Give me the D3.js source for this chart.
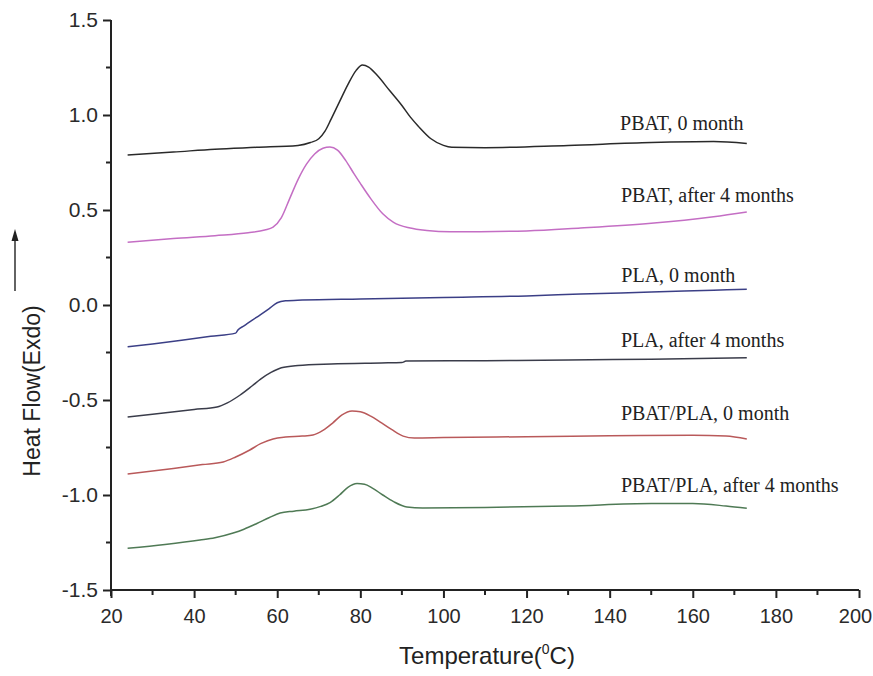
<!DOCTYPE html>
<html>
<head>
<meta charset="utf-8">
<script src="https://cdn.jsdelivr.net/npm/d3@7"></script>
<style>
  html, body { margin: 0; padding: 0; background: #fff; }
  svg { display: block; }
</style>
</head>
<body>
<svg id="chart" width="873" height="676"></svg>
<script>
// ---- data ----
const xTicks = [20, 40, 60, 80, 100, 120, 140, 160, 180, 200];
const yTicks = [-1.5, -1.0, -0.5, 0.0, 0.5, 1.0, 1.5];
const yTickLabels = ["-1.5", "-1.0", "-0.5", "0.0", "0.5", "1.0", "1.5"];

const seriesNames = ["PBAT, 0 month", "PBAT, after 4 months", "PLA, 0 month",
  "PLA, after 4 months", "PBAT/PLA, 0 month", "PBAT/PLA, after 4 months"];

const pbat0 = [[24,.79],[35,.805],[45,.82],[55,.83],[65,.84],[68,.855],[70,.875],[71.5,.915],[73,.98],[75,1.07],[77,1.16],[79,1.235],[80.5,1.263],[82,1.252],[84,1.21],[87,1.13],[90,1.05],[92,.99],[94,.94],[97,.875],[100,.84],[102,.83],[110,.828],[130,.84],[150,.855],[165,.86],[173,.85]];
const pbat4 = [[24,.33],[35,.35],[45,.365],[53,.38],[57,.395],[59,.41],[61,.46],[63,.56],[65,.66],[67,.74],[69,.795],[71,.825],[72.7,.832],[74.5,.815],[76.5,.76],[78.5,.69],[80,.64],[82.5,.56],[85.4,.48],[88,.435],[92,.405],[96,.392],[101.6,.385],[120,.39],[133,.405],[150,.43],[165,.465],[173,.49]];
const pla0 = [[24,-.22],[30,-.205],[37,-.185],[44,-.165],[50,-.148],[50.6,-.13],[52,-.11],[55,-.065],[58,-.02],[60,.012],[62,.022],[66,.026],[80,.032],[100,.04],[120,.048],[133,.058],[150,.068],[165,.078],[173,.083]];
const pla4 = [[24,-.59],[30,-.575],[40,-.55],[45.5,-.537],[48,-.515],[51,-.475],[54,-.425],[56,-.39],[58.5,-.355],[61,-.33],[65,-.318],[73,-.31],[85,-.305],[90,-.303],[91,-.295],[110,-.293],[130,-.29],[150,-.285],[173,-.278]];
const blend0 = [[24,-.89],[35,-.86],[42,-.84],[47,-.826],[50,-.8],[53.4,-.763],[56,-.73],[59,-.705],[62,-.695],[66,-.69],[68.6,-.684],[71,-.66],[73.4,-.62],[75.5,-.58],[78,-.558],[80,-.562],[82.5,-.585],[84.7,-.615],[87.5,-.655],[90.3,-.69],[93,-.7],[100,-.698],[120,-.693],[140,-.688],[160,-.685],[168,-.69],[173,-.705]];
const blend4 = [[24,-1.28],[33,-1.26],[41.4,-1.237],[45,-1.225],[49.4,-1.2],[52,-1.18],[55.1,-1.15],[58,-1.12],[60.7,-1.095],[64,-1.085],[67.9,-1.075],[70.5,-1.06],[72.7,-1.04],[75,-1.0],[77,-.96],[79.2,-.94],[81,-.943],[83,-.965],[85.4,-1.0],[88,-1.035],[91.2,-1.063],[95,-1.068],[110,-1.066],[130,-1.058],[150,-1.045],[160,-1.045],[168,-1.058],[173,-1.07]];

// ---- drawing ----
const svg = d3.select("#chart");
const x = d3.scaleLinear().domain([20, 200]).range([111, 859]);
const y = d3.scaleLinear().domain([-1.5, 1.5]).range([590, 20]);

const allSeries = [pbat0, pbat4, pla0, pla4, blend0, blend4];
const colors = ["#2a2a2a", "#c46ec4", "#3b3f86", "#3a3c4a", "#b9595a", "#4f7a55"];
// label anchors in data coordinates (T, heat flow)
const labelAnchors = [[142.5, .921], [142.7, .542], [142.8, .121], [142.7, -.221], [142.7, -.605], [142.7, -.984]];

const line = d3.line().x(d => x(d[0])).y(d => y(d[1])).curve(d3.curveMonotoneX);

svg.append("g").selectAll("path").data(allSeries).join("path")
  .attr("d", line)
  .attr("fill", "none")
  .attr("stroke", (d, i) => colors[i])
  .attr("stroke-width", 1.5)
  .attr("stroke-linejoin", "round");

svg.append("g").selectAll("text").data(seriesNames).join("text")
  .attr("x", (d, i) => x(labelAnchors[i][0]))
  .attr("y", (d, i) => y(labelAnchors[i][1]))
  .attr("font-family", "'Liberation Serif', 'Times New Roman', serif")
  .attr("font-size", 20)
  .attr("fill", "#222")
  .text(d => d);

// axes
const font = "'Liberation Sans', Arial, sans-serif";
const xMinor = d3.range(30, 200, 20);
const yMinor = d3.range(-1.25, 1.5, 0.5);

const gx = svg.append("g").attr("transform", "translate(0,590)");
gx.call(d3.axisBottom(x).tickValues(xTicks).tickSize(8).tickPadding(11).tickFormat(d3.format("d")));
gx.selectAll(".minor").data(xMinor).join("line").attr("class", "minor")
  .attr("x1", d => x(d)).attr("x2", d => x(d)).attr("y1", 0).attr("y2", 5);

const gy = svg.append("g").attr("transform", "translate(111,0)");
gy.call(d3.axisLeft(y).tickValues(yTicks).tickSize(8).tickPadding(5).tickFormat((d, i) => yTickLabels[i]));
gy.selectAll(".minor").data(yMinor).join("line").attr("class", "minor")
  .attr("y1", d => y(d)).attr("y2", d => y(d)).attr("x1", 0).attr("x2", -5);

[gx, gy].forEach(g => {
  g.selectAll("line").attr("stroke", "#222").attr("stroke-width", 2);
  g.selectAll("text").attr("font-family", font).attr("fill", "#2a2a2a");
});
gx.selectAll("text").attr("font-size", 20);
gy.selectAll("text").attr("font-size", 21);
gx.selectAll(".tick").filter(d => d === 200).select("text").attr("dx", -4);
gx.select(".domain").remove();
gy.select(".domain").remove();
svg.append("line").attr("x1", x(20)).attr("x2", x(200)).attr("y1", y(-1.5)).attr("y2", y(-1.5))
  .attr("stroke", "#222").attr("stroke-width", 2);
svg.append("line").attr("x1", x(20)).attr("x2", x(20)).attr("y1", y(1.5)).attr("y2", y(-1.5) + 6)
  .attr("stroke", "#222").attr("stroke-width", 2);

// axis titles
const xt = svg.append("text").attr("x", 487).attr("y", 664).attr("text-anchor", "middle")
  .attr("font-family", font).attr("font-size", 24).attr("fill", "#222");
xt.append("tspan").text("Temperature(");
xt.append("tspan").attr("font-size", 14).attr("dy", -10).text("0");
xt.append("tspan").attr("dy", 10).text("C)");

svg.append("text").attr("transform", "translate(40,391) rotate(-90)").attr("text-anchor", "middle")
  .attr("font-family", font).attr("font-size", 23).attr("fill", "#222").text("Heat Flow(Exdo)");

// arrow
svg.append("line").attr("x1", 15).attr("x2", 15).attr("y1", 291).attr("y2", 238)
  .attr("stroke", "#222").attr("stroke-width", 1.4);
svg.append("path").attr("d", "M15,229 L18.5,241 L11.5,241 Z").attr("fill", "#222");
</script>
</body>
</html>
